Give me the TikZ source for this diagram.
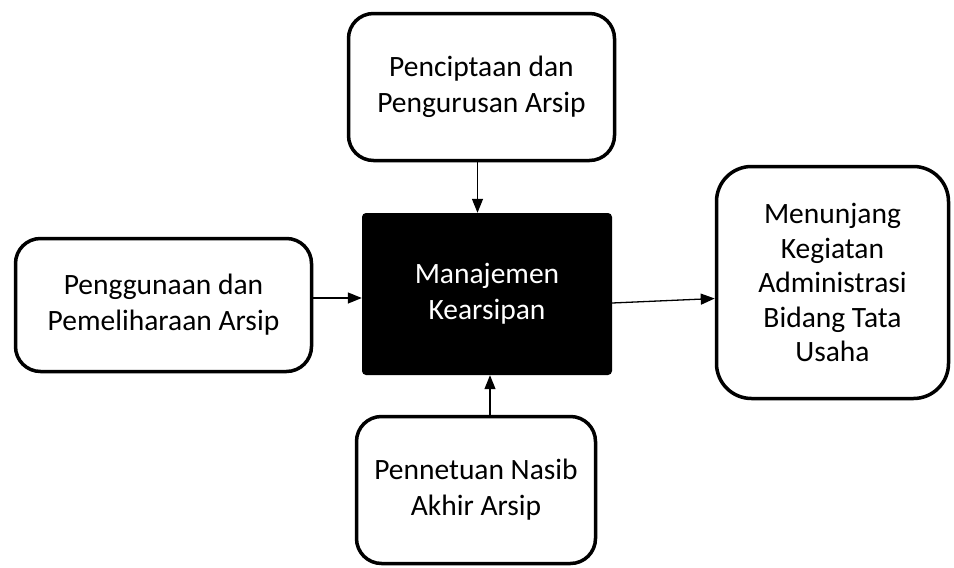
\documentclass[tikz,border=0pt]{standalone}
\usepackage{fontspec}
\setmainfont{Carlito}
\usetikzlibrary{arrows.meta}

\begin{document}
\begin{tikzpicture}[x=1pt,y=-1pt,
  box/.style={draw, line width=3.5pt, rounded corners=25pt, fill=white, align=center,
    font=\fontsize{29.5}{36}\selectfont, inner sep=0pt},
  core/.style={fill=black, rounded corners=4pt, text=white, align=center,
    font=\fontsize{29.5}{36}\selectfont, inner sep=0pt,
    minimum width=250pt, minimum height=162pt},
  flow/.style={line width=1.3pt, -{Triangle[length=14pt,width=11pt]}}]
\useasboundingbox (0,0) rectangle (954,568);

\node[core] (M) at (487,294) {Manajemen\\Kearsipan};
\node[box, minimum width=266pt, minimum height=147pt] (P) at (481.5,87) {Penciptaan dan\\Pengurusan Arsip};
\node[box, minimum width=296pt, minimum height=133pt] (G) at (163.5,305) {Penggunaan dan\\Pemeliharaan Arsip};
\node[box, minimum width=232pt, minimum height=232pt, rounded corners=35pt,
  font=\fontsize{29.5}{34.5}\selectfont] (K) at (832.5,282.5) {Menunjang\\Kegiatan\\Administrasi\\Bidang Tata\\Usaha};
\node[box, minimum width=239pt, minimum height=147pt] (N) at (476,490) {Pennetuan Nasib\\Akhir Arsip};

\path
([xshift=-4pt]P.south) edge[flow] ([xshift=-4pt]P.south |- M.north)
([yshift=7pt]G.east) edge[flow] ([yshift=7pt]G.east -| M.west)
([yshift=-9pt]M.east) edge[flow] ([yshift=-16pt]K.west)
([xshift=14pt]N.north) edge[flow] ([xshift=14pt]N.north |- M.south)
;
\end{tikzpicture}
\end{document}
